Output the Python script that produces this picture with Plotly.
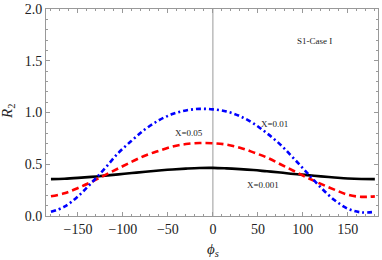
import plotly.graph_objects as go

phi = [-180, -165, -150, -135, -120, -105, -90, -75, -60, -45, -30, -15, 0,
       15, 30, 45, 60, 75, 90, 105, 120, 135, 150, 165, 180]
r2_x001 = [0.356, 0.36, 0.368, 0.378, 0.39, 0.402, 0.415, 0.428, 0.44, 0.45, 0.458, 0.464, 0.465,
           0.46, 0.453, 0.444, 0.432, 0.42, 0.406, 0.395, 0.383, 0.372, 0.362, 0.357, 0.356]
r2_x005 = [0.19, 0.22, 0.27, 0.33, 0.395, 0.46, 0.525, 0.585, 0.63, 0.67, 0.695, 0.705, 0.703,
           0.69, 0.66, 0.615, 0.565, 0.50, 0.435, 0.37, 0.31, 0.255, 0.205, 0.185, 0.19]
r2_x01 = [0.04, 0.09, 0.19, 0.32, 0.46, 0.61, 0.73, 0.84, 0.925, 0.985, 1.02, 1.035, 1.03,
          1.01, 0.965, 0.895, 0.80, 0.69, 0.555, 0.415, 0.275, 0.155, 0.07, 0.035, 0.04]

x_ticks = [-150, -100, -50, 0, 50, 100, 150]
y_ticks = [0.0, 0.5, 1.0, 1.5, 2.0]

FONT = "Liberation Serif"

fig = go.Figure()
fig.add_trace(go.Scatter(x=phi, y=r2_x001, mode="lines", line=dict(color="black", width=2.6, shape="spline")))
fig.add_trace(go.Scatter(x=phi, y=r2_x005, mode="lines", line=dict(color="#ff0000", width=2.6, dash="7px,4px", shape="spline")))
fig.add_trace(go.Scatter(x=phi, y=r2_x01, mode="lines", line=dict(color="#0000ff", width=2.6, dash="5px,3px,2px,3px", shape="spline")))

fig.add_shape(type="line", x0=0, x1=0, y0=0, y1=2, xref="x", yref="y",
              line=dict(color="#999999", width=1), layer="below")

axis_common = dict(showgrid=False, zeroline=False, showline=True, linecolor="#999999", linewidth=1,
                   mirror="allticks", ticks="inside", ticklen=4, tickcolor="#999999", automargin=False,
                   tickfont=dict(family=FONT, size=14, color="#222222"))

fig.update_xaxes(range=[-185.5, 183.5], tickvals=x_ticks,
                 ticktext=[("−" + str(-v)) if v < 0 else str(v) for v in x_ticks],
                 minor=dict(ticks="inside", dtick=10, tick0=0, ticklen=2, tickcolor="#999999"), **axis_common)
fig.update_yaxes(range=[0, 2], tickvals=y_ticks, ticktext=["%.1f" % v for v in y_ticks],
                 minor=dict(ticks="inside", dtick=0.1, tick0=0, ticklen=2, tickcolor="#999999"), **axis_common)

labels = [
    dict(x=113, y=1.69, text="S1-Case I"),
    dict(x=68, y=0.885, text="X=0.01"),
    dict(x=-27, y=0.80, text="X=0.05"),
    dict(x=56, y=0.30, text="X=0.001"),
]
for a in labels:
    fig.add_annotation(x=a["x"], y=a["y"], xref="x", yref="y", text=a["text"], showarrow=False,
                       font=dict(family=FONT, size=9, color="#222222"))

# axis titles placed as annotations (pixel-tuned)
fig.add_annotation(x=0.5, y=0, xref="paper", yref="paper", xanchor="center", yanchor="middle",
                   xshift=213 - (46 + 332 / 2), yshift=-34, text="<i>ϕ<sub>s</sub></i>", showarrow=False,
                   font=dict(family=FONT, size=15, color="#222222"))
fig.add_annotation(x=0, y=0.5, xref="paper", yref="paper", xanchor="center", yanchor="middle",
                   xshift=-38, yshift=(207 / 2 + 9) - 112, text="<i>R</i><sub>2</sub>", textangle=-90,
                   showarrow=False, font=dict(family=FONT, size=15, color="#222222"))

fig.update_layout(
    width=382, height=260,
    margin=dict(l=46, r=4, t=9, b=44, autoexpand=False),
    plot_bgcolor="white", paper_bgcolor="white",
    showlegend=False,
)

fig.write_html("out.html", config={"displayModeBar": False},
               post_script="document.body.style.margin='0';document.body.style.overflow='hidden';")
